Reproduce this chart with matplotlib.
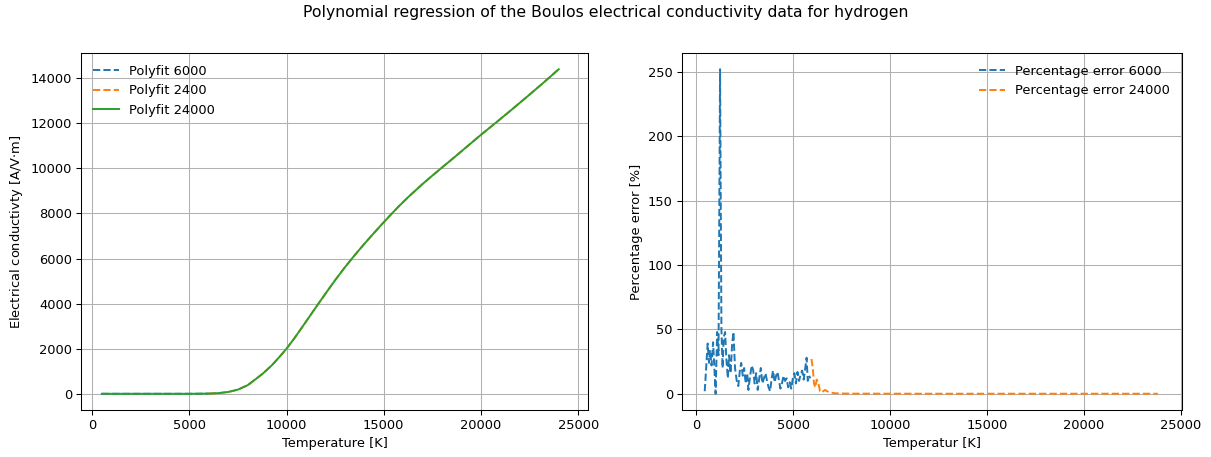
import numpy as np
import matplotlib.pyplot as plt

# conductivity curve (T in K, sigma in A/V.m)
T_fit = [500, 2000, 4000, 5000, 5500, 6000, 6500, 7000, 7500, 8000, 8400, 8800,
         9250, 9600, 10000, 10400, 10800, 11200, 11650, 12100, 12500, 13000,
         13450, 13950, 14400, 14850, 15300, 15800, 16300, 17000, 17500, 18000,
         18600, 19300, 20000, 20800, 21600, 22400, 23200, 24000]
sig_fit = [0, 0, 0, 0, 3, 10, 30, 80, 185, 380, 640, 910,
           1270, 1600, 2000, 2460, 2950, 3450, 4010, 4560, 5040, 5610,
           6090, 6600, 7040, 7470, 7890, 8340, 8760, 9310, 9680, 10040,
           10470, 10980, 11490, 12050, 12620, 13200, 13790, 14400]

# percentage error, low temperature fit
T_err6 = [450, 600, 670, 720, 800, 880, 940, 1010, 1090, 1160, 1240, 1310, 1370,
          1430, 1500, 1560, 1640, 1700, 1780, 1860, 1930, 2010, 2100, 2180, 2260,
          2330, 2410, 2480, 2560, 2640, 2700, 2790, 2870, 2950, 3020, 3100, 3180,
          3260, 3340, 3420, 3500, 3580, 3660, 3740, 3820, 3900, 3970, 4050, 4130,
          4200, 4280, 4350, 4430, 4510, 4590, 4670, 4750, 4830, 4910, 4990, 5070,
          5150, 5230, 5310, 5390, 5470, 5550, 5630, 5700, 5760, 5830, 5890]
err6 = [2, 39, 24, 34, 22, 40, 22, 0, 48, 30, 252, 50, 20,
        44, 48, 28, 12, 30, 16, 38, 48, 20, 10, 6, 18,
        24, 14, 20, 8, 16, 3, 14, 22, 18, 8, 16, 3,
        12, 20, 8, 12, 16, 10, 5, 2, 12, 18, 9, 14,
        17, 10, 4, 8, 14, 10, 12, 5, 9, 4, 12, 16,
        8, 17, 10, 15, 18, 11, 20, 28, 10, 14, 12]

# percentage error, full range fit
T_err24 = [5950, 6020, 6080, 6150, 6220, 6300, 6390, 6470, 6560, 6650, 6750,
           6850, 6950, 7100, 7300, 7600, 8000, 9000, 12000, 16000, 20000, 23800]
err24 = [27, 20, 8, 5, 11, 9, 2, 1, 2, 3, 2,
         1.5, 1, 0.5, 0.3, 0.2, 0.1, 0.1, 0.05, 0.05, 0.05, 0.05]

fig = plt.figure(figsize=(1211 / 94, 457 / 94), dpi=94)
fig.suptitle('Polynomial regression of the Boulos electrical conductivity data for hydrogen', y=0.99)

T_fit = np.array(T_fit)
sig_fit = np.array(sig_fit)
lo = T_fit <= 6000
hi = T_fit >= 6000

ax1 = fig.add_axes([0.0669, 0.1028, 0.4187, 0.7812])
ax1.plot(T_fit[lo], sig_fit[lo], '--', label='Polyfit 6000')
ax1.plot(T_fit[hi], sig_fit[hi], '--', label='Polyfit 2400')
ax1.plot(T_fit, sig_fit, label='Polyfit 24000')
ax1.set_xlim(-570, 25510)
ax1.set_xlabel('Temperature [K]')
ax1.set_ylabel('Electrical conductivty [A/V$\\cdot$m]')
ax1.grid()
ax1.legend(frameon=False, loc='upper left')

ax2 = fig.add_axes([0.5632, 0.1028, 0.4129, 0.7812])
ax2.plot(T_err6, err6, '--', label='Percentage error 6000')
ax2.plot(T_err24, err24, '--', label='Percentage error 24000')
ax2.set_xlim(-720, 25050)
ax2.set_xlabel('Temperatur [K]')
ax2.set_ylabel('Percentage error [%]')
ax2.grid()
ax2.legend(frameon=False, loc='upper right')

fig.savefig('out.png')
